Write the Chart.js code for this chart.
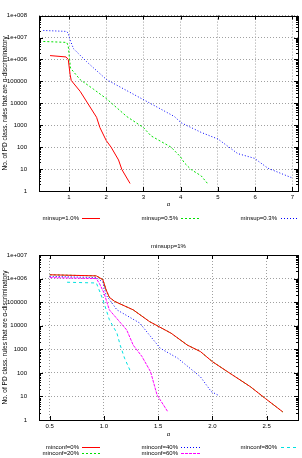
<!DOCTYPE html>
<html>
<head>
<meta charset="utf-8">
<script src="https://cdn.jsdelivr.net/npm/chart.js@4"></script>
<style>
  body { margin: 0; background: #fff; }
  #wrap { position: relative; width: 302px; height: 458px; }
  canvas { position: absolute; left: 0; }
  #topChart { top: 0; }
  #bottomChart { top: 229px; }
</style>
</head>
<body>
<div id="wrap">
  <canvas id="topChart" width="302" height="229"></canvas>
  <canvas id="bottomChart" width="302" height="229"></canvas>
</div>
<script>
// ---- top chart: varying minsup ----
const topLabels = ['minsup=1.0%', 'minsup=0.5%', 'minsup=0.3%'];
const topXTicks = [1, 2, 3, 4, 5, 6, 7];
const topYTicks = [1, 10, 100, 1000, 10000, 100000, 1e6, 1e7, 1e8];
const topYTickLabels = ['1', '10', '100', '1000', '10000', '100000', '1e+006', '1e+007', '1e+008'];

const sup10Alpha = [0.49, 0.92, 0.98, 1.03, 1.06, 1.30, 1.74, 1.83, 2.0, 2.13, 2.33, 2.42, 2.64];
const sup10Rules = [1.5e6, 1.3e6, 1.0e6, 2.0e5, 1.1e5, 3.5e4, 2300, 780, 200, 100, 26, 9.5, 2.2];

const sup05Alpha = [0.31, 0.94, 0.98, 1.04, 1.30, 1.65, 2.01, 2.55, 3.0, 3.2, 3.74, 3.99, 4.1, 4.28, 4.55, 4.73];
const sup05Rules = [6.6e6, 6.0e6, 4.0e6, 4.0e5, 1.2e5, 4.5e4, 1.6e4, 2500, 780, 330, 100, 37, 19, 9.5, 4.9, 2.1];

const sup03Alpha = [0.31, 0.94, 0.98, 1.02, 1.12, 1.47, 2.01, 2.55, 3.18, 3.83, 4.01, 4.55, 5.0, 5.53, 5.98, 6.34, 6.97];
const sup03Rules = [2.1e7, 1.9e7, 1.5e7, 8.5e6, 3.1e6, 8e5, 1.2e5, 3.8e4, 1e4, 2500, 1300, 470, 235, 51, 31, 11, 4.1];

// ---- bottom chart: minsupp=1%, varying minconf ----
const bottomTitle = 'minsupp=1%';
const bottomLabels = ['minconf=0%', 'minconf=20%', 'minconf=40%', 'minconf=60%', 'minconf=80%'];
const bottomXTicks = [0.5, 1, 1.5, 2, 2.5];
const bottomYTicks = [1, 10, 100, 1000, 10000, 100000, 1e6, 1e7];
const bottomYTickLabels = ['1', '10', '100', '1000', '10000', '100000', '1e+006', '1e+007'];

const conf0Alpha = [0.5, 0.93, 0.99, 1.02, 1.05, 1.10, 1.27, 1.42, 1.62, 1.77, 1.89, 2.0, 2.14, 2.35, 2.49, 2.65];
const conf0Rules = [1.45e6, 1.3e6, 9e5, 3.3e5, 1.6e5, 1.07e5, 4.7e4, 1.5e4, 4800, 1500, 800, 300, 112, 26, 8.1, 2.2];
const conf20Alpha = [0.5, 0.93, 0.99, 1.02, 1.05, 1.10, 1.27, 1.42, 1.62, 1.77, 1.89, 2.0, 2.14, 2.35, 2.49, 2.65];
const conf20Rules = [1.45e6, 1.3e6, 9e5, 3.3e5, 1.6e5, 1.07e5, 4.7e4, 1.5e4, 4800, 1500, 800, 300, 112, 26, 8.1, 2.2];
const conf40Alpha = [0.5, 0.93, 0.99, 1.02, 1.12, 1.33, 1.42, 1.52, 1.68, 1.89, 1.99, 2.05];
const conf40Rules = [1.25e6, 1.1e6, 7e5, 2.0e5, 4.7e4, 1.3e4, 4000, 1100, 420, 68, 16, 11.5];
const conf60Alpha = [0.5, 0.93, 0.96, 1.0, 1.05, 1.21, 1.27, 1.35, 1.43, 1.49, 1.59];
const conf60Rules = [1.1e6, 1.0e6, 6e5, 2.5e5, 4.7e4, 6600, 1500, 500, 112, 11.5, 2.2];
const conf80Alpha = [0.66, 0.93, 0.99, 1.05, 1.12, 1.15, 1.19, 1.24, 1.25];
const conf80Rules = [7e5, 6.5e5, 1.3e5, 1.8e4, 4800, 1500, 420, 130, 100];

const yTitle = 'No. of PD class. rules that are \u03b1-discriminatory';
const xTitle = '\u03b1';
const FAMILY = '"Liberation Sans", Arial, sans-serif';
const FONT = '6px ' + FAMILY;

function toPoints(xs, ys) {
  return xs.map((x, i) => ({ x, y: ys[i] }));
}

function series(label, xs, ys, color, dash) {
  return {
    label,
    data: toPoints(xs, ys),
    borderColor: color,
    backgroundColor: color,
    borderWidth: 1,
    borderDash: dash,
    pointRadius: 0,
    showLine: true,
    tension: 0,
  };
}

// gnuplot-like frame, mirrored ticks, titles and legend
const gnuplotFrame = {
  id: 'gnuplotFrame',
  afterDraw(chart, args, opts) {
    const { ctx, chartArea: a, scales } = chart;
    const x = scales.x;
    const y = scales.y;
    ctx.save();
    ctx.strokeStyle = '#000';
    ctx.lineWidth = 1;
    ctx.setLineDash([]);

    ctx.beginPath();
    x.ticks.forEach((t) => {
      const px = Math.round(x.getPixelForValue(t.value)) + 0.5;
      ctx.moveTo(px, a.bottom); ctx.lineTo(px, a.bottom - 4);
      ctx.moveTo(px, a.top); ctx.lineTo(px, a.top + 4);
    });
    y.ticks.forEach((t) => {
      const py = Math.round(y.getPixelForValue(t.value)) + 0.5;
      ctx.moveTo(a.left, py); ctx.lineTo(a.left + 4, py);
      ctx.moveTo(a.right, py); ctx.lineTo(a.right - 4, py);
      for (let m = 2; m <= 9; m++) {
        const v = t.value * m;
        if (v > y.max) break;
        const pm = Math.round(y.getPixelForValue(v)) + 0.5;
        ctx.moveTo(a.left, pm); ctx.lineTo(a.left + 2, pm);
        ctx.moveTo(a.right, pm); ctx.lineTo(a.right - 2, pm);
      }
    });
    ctx.stroke();
    ctx.strokeRect(Math.round(a.left) + 0.5, Math.round(a.top) + 0.5, Math.round(a.width), Math.round(a.height));

    ctx.fillStyle = '#000';
    ctx.textBaseline = 'middle';

    // y title
    ctx.save();
    ctx.font = '6.5px ' + FAMILY;
    ctx.translate(5, (a.top + a.bottom) / 2);
    ctx.rotate(-Math.PI / 2);
    ctx.textAlign = 'center';
    ctx.fillText(yTitle, 0, 0);
    ctx.restore();

    ctx.font = FONT;
    ctx.textAlign = 'center';
    ctx.fillText(xTitle, (a.left + a.right) / 2, opts.xTitleY);
    if (opts.title) ctx.fillText(opts.title, (a.left + a.right) / 2, opts.titleY);

    // legend
    const lg = opts.legend;
    chart.data.datasets.forEach((ds, i) => {
      const col = Math.floor(i / lg.rows);
      const row = i % lg.rows;
      const ly = lg.rowY[row];
      ctx.textAlign = 'right';
      ctx.fillStyle = '#000';
      ctx.fillText(ds.label, lg.textRight[col], ly);
      ctx.beginPath();
      ctx.strokeStyle = ds.borderColor;
      ctx.setLineDash(ds.borderDash || []);
      ctx.moveTo(lg.lineX[col][0], Math.round(ly) + 0.5);
      ctx.lineTo(lg.lineX[col][1], Math.round(ly) + 0.5);
      ctx.stroke();
    });
    ctx.restore();
  },
};

function buildOptions(cfg) {
  return {
    responsive: false,
    animation: false,
    devicePixelRatio: 1,
    layout: { padding: { top: cfg.padTop, right: 4, left: 0, bottom: 0 } },
    plugins: {
      legend: { display: false },
      tooltip: { enabled: false },
      gnuplotFrame: cfg.frame,
    },
    scales: {
      x: {
        type: 'linear',
        min: cfg.xMin,
        max: cfg.xMax,
        afterBuildTicks: (scale) => { scale.ticks = cfg.xTicks.map((v) => ({ value: v })); },
        afterFit: (scale) => { scale.height = 38; },
        grid: { color: '#a0a0a0', lineWidth: 1, drawTicks: false },
        border: { display: false, dash: [1, 2] },
        ticks: { color: '#000', font: { family: FAMILY, size: 6 }, padding: 3, maxRotation: 0, autoSkip: false },
      },
      y: {
        type: 'logarithmic',
        min: cfg.yTicks[0],
        max: cfg.yTicks[cfg.yTicks.length - 1],
        afterBuildTicks: (scale) => { scale.ticks = cfg.yTicks.map((v) => ({ value: v, major: true })); },
        afterFit: (scale) => { scale.width = 39; },
        grid: { color: '#a0a0a0', lineWidth: 1, drawTicks: false },
        border: { display: false, dash: [1, 2] },
        ticks: {
          color: '#000',
          font: { family: FAMILY, size: 6 },
          padding: 12,
          autoSkip: false,
          callback: (value, index) => cfg.yTickLabels[index],
        },
      },
    },
  };
}

new Chart(document.getElementById('topChart'), {
  type: 'scatter',
  data: {
    datasets: [
      series(topLabels[0], sup10Alpha, sup10Rules, '#ff0000', []),
      series(topLabels[1], sup05Alpha, sup05Rules, '#00e000', [2, 2]),
      series(topLabels[2], sup03Alpha, sup03Rules, '#0000ff', [1, 2]),
    ],
  },
  options: buildOptions({
    padTop: 9,
    xMin: 0.194, xMax: 7.15,
    xTicks: topXTicks,
    yTicks: topYTicks,
    yTickLabels: topYTickLabels,
    frame: {
      xTitleY: 204,
      legend: { rows: 1, rowY: [218], textRight: [79, 178, 277], lineX: [[82, 100], [181, 200], [281, 298]] },
    },
  }),
  plugins: [gnuplotFrame],
});

new Chart(document.getElementById('bottomChart'), {
  type: 'scatter',
  data: {
    datasets: [
      series(bottomLabels[0], conf0Alpha, conf0Rules, '#ff0000', []),
      series(bottomLabels[1], conf20Alpha, conf20Rules, '#00e000', [2, 2]),
      series(bottomLabels[2], conf40Alpha, conf40Rules, '#0000ff', [1, 2]),
      series(bottomLabels[3], conf60Alpha, conf60Rules, '#ff00ff', [3, 1]),
      series(bottomLabels[4], conf80Alpha, conf80Rules, '#00e0e0', [3, 3]),
    ],
  },
  options: buildOptions({
    padTop: 26,
    xMin: 0.401, xMax: 2.79,
    xTicks: bottomXTicks,
    yTicks: bottomYTicks,
    yTickLabels: bottomYTickLabels,
    frame: {
      title: bottomTitle,
      titleY: 17,
      xTitleY: 205,
      legend: { rows: 2, rowY: [218, 224], textRight: [79, 178, 277], lineX: [[82, 100], [181, 200], [281, 298]] },
    },
  }),
  plugins: [gnuplotFrame],
});
</script>
</body>
</html>
